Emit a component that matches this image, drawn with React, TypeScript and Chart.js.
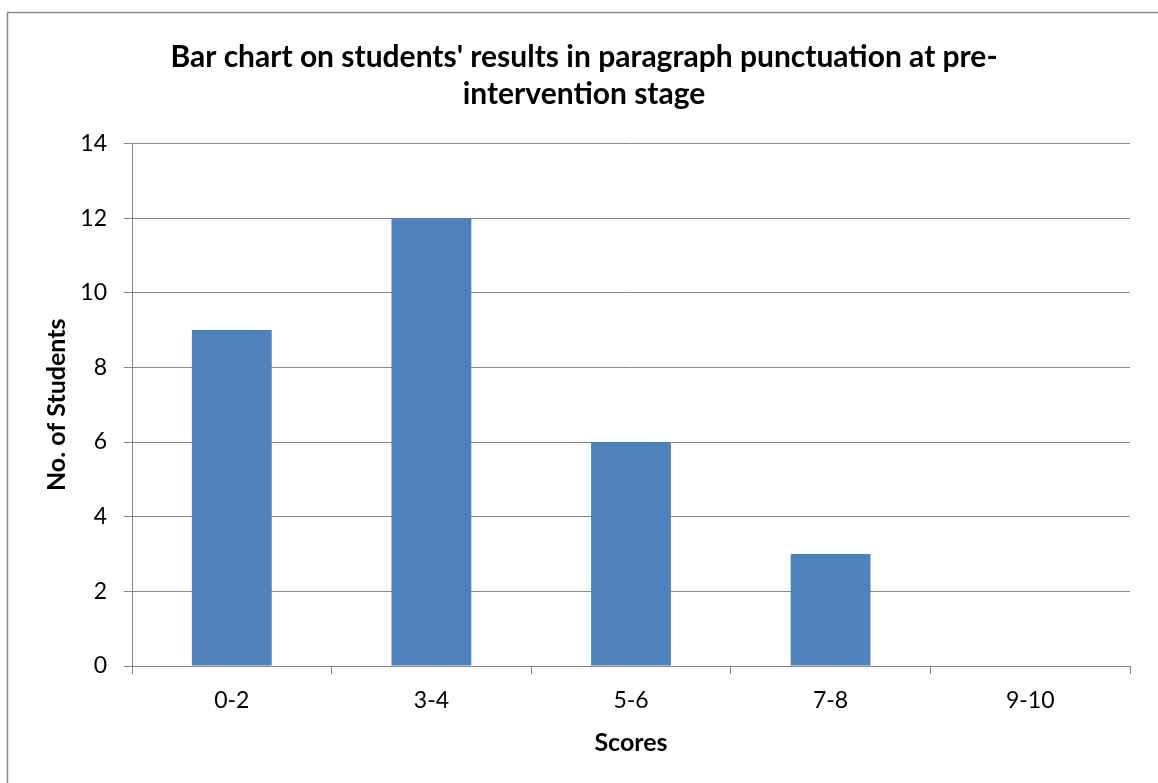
import React, { useEffect, useRef } from "react";
import { Chart, registerables } from "chart.js";

Chart.register(...registerables);

const categories = ["0-2", "3-4", "5-6", "7-8", "9-10"];
const students = [9, 12, 6, 3, 0];
const yTicks = [0, 2, 4, 6, 8, 10, 12, 14];
const titleLines = [
  "Bar chart on students' results in paragraph punctuation at pre-",
  "intervention stage",
];
const xTitle = "Scores";
const yTitle = "No. of Students";

const FONT = "Lato, 'Open Sans', sans-serif";
const GRID = "#868686";

const frame = {
  id: "frame",
  beforeDraw(chart: any) {
    const ctx = chart.ctx;
    ctx.save();
    ctx.fillStyle = "#ffffff";
    ctx.fillRect(0, 0, chart.width, chart.height);
    ctx.strokeStyle = "#8a8a8a";
    ctx.lineWidth = 1.5;
    ctx.strokeRect(7.5, 12.5, chart.width + 50, chart.height + 50);
    ctx.restore();
  },
};

export default function App() {
  const ref = useRef<HTMLCanvasElement | null>(null);

  useEffect(() => {
    if (!ref.current) return;
    const chart = new Chart(ref.current, {
      type: "bar",
      data: {
        labels: categories,
        datasets: [
          {
            data: students,
            backgroundColor: "#4f81bd",
            borderWidth: 0,
            categoryPercentage: 1,
            barPercentage: 0.4,
          },
        ],
      },
      plugins: [frame],
      options: {
        responsive: false,
        animation: false,
        layout: { padding: { top: 20, left: 38, right: 28, bottom: 21 } },
        plugins: {
          legend: { display: false },
          tooltip: { enabled: false },
          title: {
            display: true,
            text: titleLines,
            color: "#000",
            font: { family: FONT, size: 30, weight: "bold", lineHeight: "37px" },
            padding: { top: 18.5, bottom: 31 },
          },
        },
        scales: {
          x: {
            grid: {
              display: true,
              drawOnChartArea: false,
              drawTicks: true,
              tickLength: 8,
              color: GRID,
              offset: true,
            },
            border: { color: GRID, width: 1 },
            ticks: { color: "#000", font: { family: FONT, size: 23 }, padding: 13 },
            title: {
              display: true,
              text: xTitle,
              color: "#000",
              font: { family: FONT, size: 25, weight: "bold" },
              padding: { top: 4, bottom: 4 },
            },
            afterFit(scale: any) {
              scale.height = 96;
            },
          },
          y: {
            min: 0,
            max: 14,
            afterBuildTicks(scale: any) {
              scale.ticks = yTicks.map((v) => ({ value: v }));
            },
            grid: { color: GRID, tickLength: 8 },
            border: { color: GRID, width: 1 },
            ticks: { color: "#000", font: { family: FONT, size: 23 }, padding: 17 },
            title: {
              display: true,
              text: yTitle,
              color: "#000",
              font: { family: FONT, size: 25, weight: "bold" },
              padding: { top: 4, bottom: 4 },
            },
            afterFit(scale: any) {
              scale.width = 94;
            },
          },
        },
      },
    } as any);
    return () => chart.destroy();
  }, []);

  return (
    <div style={{ position: "absolute", left: 0, top: 0, width: 1158, height: 783 }}>
      <canvas ref={ref} width={1158} height={783} style={{ display: "block" }} />
    </div>
  );
}
